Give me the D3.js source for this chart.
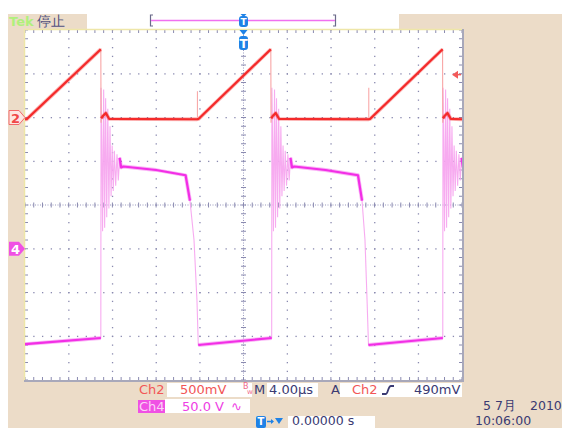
<!DOCTYPE html>
<html>
<head>
<meta charset="utf-8">
<script src="https://cdn.jsdelivr.net/npm/d3@7"></script>
<style>
  html, body { margin: 0; padding: 0; background: #ffffff; }
  svg { display: block; }
  text { font-family: "DejaVu Sans", "Liberation Sans", sans-serif; }
</style>
</head>
<body>
<svg id="scope" width="562" height="428"></svg>
<script>
// ---- acquisition settings ----
const timePerDiv = 4;        // µs / div
const ch2PerDiv = 500;       // mV / div
const ch4PerDiv = 50;        // V / div
const ch2Offset = 2;         // ground marker, divisions above centre
const ch4Offset = -1;

// ---- Ch2 (mV) : current-sense ramp ----
const ch2T  = [-20, -19.85, -13.06, -13.04, -13.02, -12.85, -12.6, -12.3, -4.25, -4.1, 2.50, 2.52, 2.54, 2.70, 2.95, 3.25, 11.45, 11.6, 18.22, 18.24, 18.26, 18.42, 18.67, 18.97, 20];
const ch2MV = [-20, -20, 780, -60, -10, 20, 50, -15, -20, -15, 780, -60, -10, 20, 50, -15, -20, -15, 780, -60, -10, 20, 50, -15, -20];
// short spikes at the start of each ramp
const ch2SpikeT  = [-4.22, 11.47];
const ch2SpikeMV = [300, 340];

// ---- Ch4 (V) : switch-node voltage ----
const ch4T = [-20, -13.06, -11.0, -8.0, -5.3, -4.9, -4.53, -4.26, -4.14, 2.58, 4.64, 7.5, 10.48, 10.85, 11.12, 11.31, 11.44, 18.24];
const ch4V = [-109, -102, 94, 90, 84, 55, 10, -59, -110, -102, 94, 90, 84, 55, 10, -59, -110, -102];
// turn-off edges and the ringing that follows each one (offset µs, V)
const ch4EdgeT = [-13.04, 2.60, 18.26];
const ringDt = [0.00, 0.07, 0.14, 0.24, 0.33, 0.42, 0.52, 0.62, 0.72, 0.82, 0.92, 1.02, 1.12, 1.22, 1.34, 1.46, 1.58, 1.70, 1.84];
const ringV  = [184, 120, 20, 182, 24, 172, 36, 160, 46, 140, 60, 118, 66, 112, 72, 108, 78, 104, 93];

// ---- readouts ----
const ch2Label = "Ch2", ch2Scale = "500mV";
const ch4Label = "Ch4", ch4Scale = "50.0 V";
const timeScale = "4.00µs";
const trigLevel = "490mV";
const trigPos = "0.00000 s";
const dateLine = ["5 7月", "2010"];
const timeLine = "10:06:00";
const trigLevelMV = 490;

// ---- layout ----
const svg = d3.select("#scope");
const W = 562, H = 428;
const P = { x0: 25, x1: 462, y0: 30, y1: 380 };
const beige = "#ecdcc8";
const navy = "#3a3a72";
const redTxt = "#f25656";
const mag = "#ee3ee4";

const divX = d3.scaleLinear().domain([-5, 5]).range([P.x0, P.x1]);
const divY = d3.scaleLinear().domain([-4, 4]).range([P.y1, P.y0]);
const x = d3.scaleLinear().domain([-5 * timePerDiv, 5 * timePerDiv]).range([P.x0, P.x1]);
const y2 = d3.scaleLinear().domain([(-4 - ch2Offset) * ch2PerDiv, (4 - ch2Offset) * ch2PerDiv]).range([P.y1, P.y0]);
const y4 = d3.scaleLinear().domain([(-4 - ch4Offset) * ch4PerDiv, (4 - ch4Offset) * ch4PerDiv]).range([P.y1, P.y0]);

// ---- background panels ----
svg.append("rect").attr("x", 0).attr("y", 0).attr("width", W).attr("height", H).attr("fill", "#ffffff");
svg.append("rect").attr("x", 8).attr("y", 14).attr("width", W - 8).attr("height", H - 14).attr("fill", beige);
svg.append("rect").attr("x", 87).attr("y", 14).attr("width", 399 - 87).attr("height", P.y0 - 14 - 1).attr("fill", "#ffffff");
svg.append("rect").attr("x", P.x0).attr("y", P.y0 - 1).attr("width", P.x1 - P.x0).attr("height", P.y1 - P.y0 + 1).attr("fill", "#ffffff");

// ---- graticule ----
const grid = svg.append("g");
const dotCol = "#8a8ab0";
const fifths = d3.range(0, 41).map(i => -4 + i * 0.2);
const fifthsX = d3.range(0, 51).map(i => -5 + i * 0.2);
for (let k = -4; k <= 4; k++) {
  if (k === 0) continue;
  grid.selectAll(null).data(fifths).enter().append("rect")
    .attr("x", divX(k) - 0.5).attr("y", d => divY(d) - 0.5)
    .attr("width", 1.3).attr("height", 1.3).attr("fill", dotCol);
}
for (let m = -3; m <= 3; m++) {
  if (m === 0) continue;
  grid.selectAll(null).data(fifthsX).enter().append("rect")
    .attr("x", d => divX(d) - 0.5).attr("y", divY(m) - 0.5)
    .attr("width", 1.3).attr("height", 1.3).attr("fill", dotCol);
}
// centre cross with minor ticks
grid.append("line").attr("x1", divX(0)).attr("x2", divX(0)).attr("y1", P.y0).attr("y2", P.y1)
  .attr("stroke", "#9a9abf").attr("stroke-width", 1).attr("stroke-dasharray", "1,1.5");
grid.append("line").attr("y1", divY(0)).attr("y2", divY(0)).attr("x1", P.x0).attr("x2", P.x1)
  .attr("stroke", "#9a9abf").attr("stroke-width", 1).attr("stroke-dasharray", "1,1.5");
grid.selectAll(null).data(fifths).enter().append("line")
  .attr("x1", divX(0) - 2.5).attr("x2", divX(0) + 2.5).attr("y1", d => divY(d)).attr("y2", d => divY(d))
  .attr("stroke", dotCol).attr("stroke-width", 1);
grid.selectAll(null).data(fifthsX).enter().append("line")
  .attr("y1", divY(0) - 2.5).attr("y2", divY(0) + 2.5).attr("x1", d => divX(d)).attr("x2", d => divX(d))
  .attr("stroke", dotCol).attr("stroke-width", 1);
// edge rulers
grid.selectAll(null).data(fifthsX).enter().append("line")
  .attr("x1", d => divX(d)).attr("x2", d => divX(d)).attr("y1", P.y0).attr("y2", P.y0 + 3)
  .attr("stroke", dotCol).attr("stroke-width", 1);
grid.selectAll(null).data(fifthsX).enter().append("line")
  .attr("x1", d => divX(d)).attr("x2", d => divX(d)).attr("y1", P.y1 - 3).attr("y2", P.y1)
  .attr("stroke", dotCol).attr("stroke-width", 1);
grid.selectAll(null).data(fifths).enter().append("line")
  .attr("y1", d => divY(d)).attr("y2", d => divY(d)).attr("x1", P.x0).attr("x2", P.x0 + 3)
  .attr("stroke", dotCol).attr("stroke-width", 1);
grid.selectAll(null).data(fifths).enter().append("line")
  .attr("y1", d => divY(d)).attr("y2", d => divY(d)).attr("x1", P.x1 - 3).attr("x2", P.x1)
  .attr("stroke", dotCol).attr("stroke-width", 1);
// frame
grid.append("line").attr("x1", P.x0 - 1).attr("x2", P.x1).attr("y1", P.y0 - 0.5).attr("y2", P.y0 - 0.5).attr("stroke", "#eee6a8").attr("stroke-width", 1.5);
grid.append("line").attr("x1", P.x0 - 0.5).attr("x2", P.x0 - 0.5).attr("y1", P.y0 - 1).attr("y2", P.y1 + 1).attr("stroke", "#eee6a8").attr("stroke-width", 1.5);
grid.append("line").attr("x1", P.x1 + 1).attr("x2", P.x1 + 1).attr("y1", P.y0 - 1).attr("y2", P.y1 + 2).attr("stroke", "#a8a8ba").attr("stroke-width", 2);
grid.append("line").attr("x1", P.x0 - 1).attr("x2", P.x1 + 2).attr("y1", P.y1 + 1).attr("y2", P.y1 + 1).attr("stroke", "#a8a8ba").attr("stroke-width", 2);

// ---- traces ----
svg.append("clipPath").attr("id", "plotClip").append("rect")
  .attr("x", P.x0).attr("y", P.y0).attr("width", P.x1 - P.x0).attr("height", P.y1 - P.y0);
const traces = svg.append("g").attr("clip-path", "url(#plotClip)");

// split a polyline into slow (bright, thick) and fast (faint, thin) runs
function drawTrace(pts, ys, fastSlope, faint, bright) {
  const line = d3.line().x(d => x(d[0])).y(d => ys(d[1]));
  traces.append("path").attr("d", line(pts)).attr("fill", "none")
    .attr("stroke", faint).attr("stroke-width", 1.1).attr("opacity", 0.95);
  const runs = [];
  let cur = null;
  for (let i = 0; i < pts.length - 1; i++) {
    const a = pts[i], b = pts[i + 1];
    const slope = Math.abs((b[1] - a[1]) / Math.max(b[0] - a[0], 1e-6));
    if (slope <= fastSlope) {
      if (!cur) { cur = [a]; runs.push(cur); }
      cur.push(b);
    } else cur = null;
  }
  runs.forEach(r => {
    traces.append("path").attr("d", line(r)).attr("fill", "none")
      .attr("stroke", bright).attr("stroke-width", 3.8).attr("opacity", 0.35)
      .attr("stroke-linejoin", "round");
    traces.append("path").attr("d", line(r)).attr("fill", "none")
      .attr("stroke", bright).attr("stroke-width", 2.2).attr("stroke-linejoin", "round");
  });
}

// Ch4: base points plus ringing after every edge
const ch4Pts = ch4T.map((t, i) => [t, ch4V[i]]);
ch4EdgeT.forEach(te => ringDt.forEach((dt, j) => ch4Pts.push([te + dt, ringV[j]])));
ch4Pts.sort((a, b) => a[0] - b[0]);
drawTrace(ch4Pts, y4, 100, "#f7a6ef", "#f22ee6");

// Ch2 ramp
const ch2Pts = ch2T.map((t, i) => [t, ch2MV[i]]);
drawTrace(ch2Pts, y2, 2000, "#f8a0a0", "#f42a2a");
traces.selectAll(null).data(ch2SpikeT).enter().append("line")
  .attr("x1", d => x(d)).attr("x2", d => x(d))
  .attr("y1", y2(0)).attr("y2", (d, i) => y2(ch2SpikeMV[i]))
  .attr("stroke", "#f8a0a0").attr("stroke-width", 1);

// ---- channel markers ----
const m2y = y2(0);
svg.append("path")
  .attr("d", `M9,${m2y - 7} L19,${m2y - 7} L25,${m2y} L19,${m2y + 7} L9,${m2y + 7} Z`)
  .attr("fill", "#fde6e2").attr("stroke", "#f26a6a").attr("stroke-width", 1);
svg.append("text").attr("x", 11).attr("y", m2y + 5).attr("font-size", 13).attr("font-weight", "bold")
  .attr("fill", "#f04848").text("2");
const m4y = y4(0);
svg.append("path")
  .attr("d", `M9,${m4y - 7} L19,${m4y - 7} L25,${m4y} L19,${m4y + 7} L9,${m4y + 7} Z`)
  .attr("fill", "#f050e4");
svg.append("text").attr("x", 11).attr("y", m4y + 5).attr("font-size", 13).attr("font-weight", "bold")
  .attr("fill", "#ffffff").text("4");
// trigger level arrow (right edge)
const ty = y2(trigLevelMV);
svg.append("path").attr("d", `M452,${ty} L458,${ty - 4} L458,${ty + 4} Z`).attr("fill", "#f25a5a");
svg.append("line").attr("x1", 457).attr("x2", 461).attr("y1", ty).attr("y2", ty).attr("stroke", "#f25a5a").attr("stroke-width", 1.5);

// ---- top status bar ----
svg.append("text").attr("x", 9).attr("y", 26).attr("font-size", 13).attr("font-weight", "bold")
  .attr("fill", "#b0f07c").text("Tek");
svg.append("text").attr("x", 37).attr("y", 26).attr("font-size", 14)
  .attr("font-family", "Noto Sans CJK SC").attr("fill", "#50507e").text("停止");
// record bracket
svg.append("path").attr("d", "M153,15 L150.5,15 L150.5,26 L153,26").attr("fill", "none").attr("stroke", "#6a6a8a").attr("stroke-width", 1.2);
svg.append("path").attr("d", "M333,15 L335.5,15 L335.5,26 L333,26").attr("fill", "none").attr("stroke", "#6a6a8a").attr("stroke-width", 1.2);
svg.append("line").attr("x1", 151).attr("x2", 335).attr("y1", 20.5).attr("y2", 20.5).attr("stroke", "#f070f0").attr("stroke-width", 1.5);
// trigger position markers
const tx = x(0);
const blue = "#1f82e6";
function tBadge(cx, top, h) {
  svg.append("rect").attr("x", cx - 4.5).attr("y", top).attr("width", 9).attr("height", h).attr("rx", 3).attr("fill", blue);
  svg.append("text").attr("x", cx).attr("y", top + h - 2.5).attr("text-anchor", "middle")
    .attr("font-size", h - 2).attr("font-weight", "bold").attr("fill", "#ffffff").text("T");
}
svg.append("path").attr("d", `M${tx - 3},14 L${tx + 3},14 L${tx},17 Z`).attr("fill", blue);
tBadge(tx, 16, 11);
svg.append("path").attr("d", `M${tx - 4},30 L${tx + 4},30 L${tx},35 Z`).attr("fill", blue);
tBadge(tx, 36, 14);

// ---- bottom readouts ----
const fs = 13;
function box(x0, y0, w, h, fill) {
  svg.append("rect").attr("x", x0).attr("y", y0).attr("width", w).attr("height", h).attr("fill", fill);
}
function label(xp, yp, str, fill, size) {
  return svg.append("text").attr("x", xp).attr("y", yp).attr("font-size", size || fs).attr("fill", fill).text(str);
}
// row 1
label(139, 394, ch2Label, redTxt);
box(167, 383, 85, 14, "#ffffff");
label(180, 394, ch2Scale, redTxt);
svg.append("text").attr("x", 243).attr("y", 389).attr("font-size", 8).attr("fill", "#f06a8a").text("B");
svg.append("text").attr("x", 247).attr("y", 394).attr("font-size", 7).attr("fill", "#f06a8a").text("w");
label(254, 394, "M", navy);
box(267, 383, 51, 14, "#ffffff");
label(269, 394, timeScale, navy);
label(331, 394, "A", navy);
box(340, 383, 122, 14, "#ffffff");
label(352, 394, ch2Label, redTxt);
svg.append("path").attr("d", "M382,394 L386,394 C388,394 388,386 391,386 L394,386")
  .attr("fill", "none").attr("stroke", navy).attr("stroke-width", 1.8);
label(414, 394, trigLevel, navy);
// row 2
box(138, 400, 27, 13, "#f050e4");
label(139, 411, ch4Label, "#fbd4f6");
box(165, 399, 85, 14, "#ffffff");
label(182, 411, ch4Scale, mag);
label(231, 411, "∿", mag);
// row 3
svg.append("rect").attr("x", 256).attr("y", 416).attr("width", 10).attr("height", 12).attr("rx", 2).attr("fill", blue);
svg.append("text").attr("x", 261).attr("y", 425).attr("text-anchor", "middle").attr("font-size", 10)
  .attr("font-weight", "bold").attr("fill", "#ffffff").text("T");
svg.append("path").attr("d", "M267,421.5 L273,421.5").attr("stroke", blue).attr("stroke-width", 1.5);
svg.append("path").attr("d", "M271,419 L274,421.5 L271,424 Z").attr("fill", blue);
svg.append("path").attr("d", "M275,418 L283,418 L279,424 Z").attr("fill", blue);
box(288, 416, 87, 12, "#ffffff");
label(292, 425, trigPos, navy, 12.5);
// date / time
label(483, 410, dateLine[0], navy, 12.5);
label(530, 410, dateLine[1], navy, 12.5);
label(475, 425, timeLine, navy, 12.5);
</script>
</body>
</html>
